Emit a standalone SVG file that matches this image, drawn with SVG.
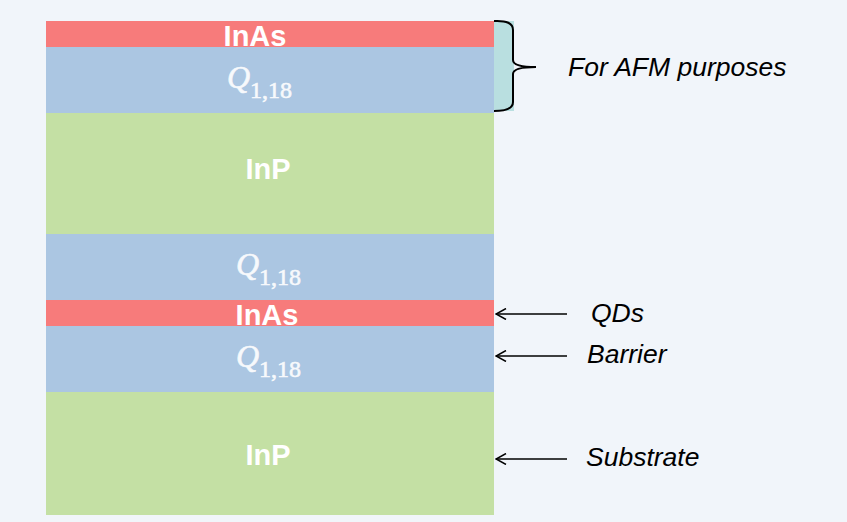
<svg xmlns="http://www.w3.org/2000/svg" width="847" height="522" viewBox="0 0 847 522">
<defs>
<style>
.inas{fill:#f77b7b}
.q{fill:#abc6e2}
.inp{fill:#c4e0a4}
.lt{font-family:"Liberation Sans",Arial,sans-serif;font-weight:bold;font-size:29px;fill:#ffffff;text-anchor:middle}
.qt{font-family:"Liberation Serif","Times New Roman",serif;fill:#f7f9fc;stroke:#f7f9fc;stroke-width:0.6}
.lab{font-family:"Liberation Sans",Arial,sans-serif;font-style:italic;font-size:26.5px;fill:#000}
.arr{stroke:#000;stroke-width:1.5;fill:none}
</style>
<marker id="ah" viewBox="0 0 12 12" refX="11" refY="6" markerWidth="12" markerHeight="12" markerUnits="userSpaceOnUse" orient="auto">
<path d="M1,0.5 L11,6 L1,11.5" fill="none" stroke="#000" stroke-width="1.5"/>
</marker>
</defs>
<rect x="0" y="0" width="847" height="522" fill="#f1f5fa"/>
<g id="brace-bg"><rect x="494" y="21" width="20" height="90" fill="#b9dfe0"/></g>
<g id="inas-top"><rect class="inas" x="46" y="21" width="448" height="26"/><text class="lt" x="255" y="46">InAs</text></g>
<g id="q-top"><rect class="q" x="46" y="47" width="448" height="66"/><text class="qt" x="227" y="88"><tspan font-style="italic" font-size="32">Q</tspan><tspan font-size="24" dy="10">1,18</tspan></text></g>
<g id="inp-top"><rect class="inp" x="46" y="113" width="448" height="121"/><text class="lt" x="268" y="179">InP</text></g>
<g id="q-mid"><rect class="q" x="46" y="234" width="448" height="66"/><text class="qt" x="236" y="275"><tspan font-style="italic" font-size="32">Q</tspan><tspan font-size="24" dy="10">1,18</tspan></text></g>
<g id="inas-mid"><rect class="inas" x="46" y="300" width="448" height="26"/><text class="lt" x="267" y="325">InAs</text></g>
<g id="q-bot"><rect class="q" x="46" y="326" width="448" height="66"/><text class="qt" x="236" y="367"><tspan font-style="italic" font-size="32">Q</tspan><tspan font-size="24" dy="10">1,18</tspan></text></g>
<g id="inp-bot"><rect class="inp" x="46" y="392" width="448" height="123"/><text class="lt" x="268" y="465">InP</text></g>
<g id="brace"><path d="M494,21 Q513,20 513,30 L513,60 Q513,67 536,67 Q513,67 513,74 L513,102 Q513,111 494,111" fill="none" stroke="#000" stroke-width="2"/></g>
<g id="labels">
<text class="lab" x="568" y="76">For AFM purposes</text>
<text class="lab" x="591" y="322">QDs</text>
<text class="lab" x="587" y="363">Barrier</text>
<text class="lab" x="586" y="466">Substrate</text>
</g>
<g id="connectors">
<line class="arr" x1="567" y1="314" x2="496" y2="314" marker-end="url(#ah)"/>
<line class="arr" x1="567" y1="356" x2="496" y2="356" marker-end="url(#ah)"/>
<line class="arr" x1="567" y1="459" x2="496" y2="459" marker-end="url(#ah)"/>
</g>
</svg>
